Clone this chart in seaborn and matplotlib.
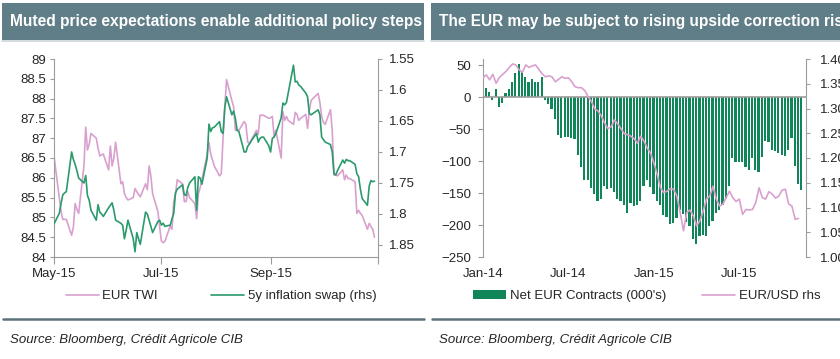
import matplotlib
matplotlib.use("Agg")
import matplotlib.pyplot as plt
import matplotlib.dates as mdates
from matplotlib.patches import Rectangle, Patch
from matplotlib.lines import Line2D
from matplotlib.transforms import Bbox, TransformedBbox
import seaborn as sns
import pandas as pd
import numpy as np

# ---- left panel data (daily, May-Oct 2015) ----
eur_twi = [
    86.55, 85.5, 85.15, 84.95, 84.95, 84.95, 84.55, 84.75, 85.35, 85.2, 85.1, 86.3, 87.28, 86.7, 86.85,
    87.12, 87.0, 86.75, 86.55, 86.58, 86.6, 86.2, 86.8, 86.3, 86.5, 86.9, 85.85, 85.9, 85.6, 85.5,
    85.44, 85.5, 85.73, 85.65, 85.58, 85.52, 85.85, 85.7, 86.3, 86.05, 85.6, 85.15, 84.75, 84.4,
    84.36, 84.4, 84.78, 84.7, 85.4, 85.6, 85.95, 85.85, 85.4, 85.4, 85.65, 85.5, 85.35, 84.97, 85.6,
    85.75, 85.95, 86.6, 86.9, 86.6, 86.45, 86.3, 86.05, 86.1, 87.0, 87.8, 88.48, 87.95, 87.8, 87.2,
    87.2, 87.2, 87.42, 87.35, 86.9, 86.87, 86.95, 87.2, 87.1, 87.58, 87.58, 87.58, 87.5, 87.52,
    87.55, 87.04, 87.2, 86.5, 87.67, 87.45, 87.55, 87.45, 87.35, 87.65, 87.6, 87.45, 87.5, 87.6, 87.25,
    87.7, 87.95, 88.0, 88.13, 87.9, 87.55, 87.4, 87.35, 87.72, 87.2, 86.07, 86.07, 86.05, 86.2, 85.95,
    86.07, 85.98, 85.98, 85.9, 85.1, 85.18, 85.1, 85.05, 84.7, 84.85, 84.77, 84.7, 84.5,
]
swap_5y = [
    1.816, 1.799, 1.783, 1.769, 1.766, 1.764, 1.70, 1.712, 1.72, 1.73, 1.742, 1.75, 1.738, 1.77, 1.778,
    1.794, 1.81, 1.785, 1.797, 1.80, 1.804, 1.79, 1.786, 1.782, 1.794, 1.81, 1.815, 1.818, 1.84, 1.826,
    1.81, 1.84, 1.861, 1.83, 1.84, 1.849, 1.797, 1.80, 1.81, 1.82, 1.83, 1.812, 1.81, 1.818,
    1.815, 1.82, 1.818, 1.808, 1.799, 1.766, 1.76, 1.753, 1.769, 1.77, 1.757, 1.75, 1.74, 1.794, 1.74,
    1.742, 1.752, 1.71, 1.655, 1.667, 1.661, 1.66, 1.651, 1.667, 1.67, 1.628, 1.611, 1.64, 1.634, 1.646,
    1.665, 1.667, 1.70, 1.70, 1.691, 1.687, 1.682, 1.67, 1.684, 1.678, 1.676, 1.676, 1.69, 1.70,
    1.678, 1.676, 1.67, 1.645, 1.621, 1.624, 1.62, 1.605, 1.56, 1.587, 1.586, 1.592, 1.594, 1.605, 1.611,
    1.638, 1.64, 1.638, 1.632, 1.64, 1.676, 1.68, 1.684, 1.688, 1.70, 1.735, 1.737, 1.73, 1.713, 1.718,
    1.712, 1.714, 1.714, 1.72, 1.735, 1.74, 1.76, 1.775, 1.786, 1.755, 1.746, 1.748, 1.747,
]
left_ticks = ["2015-05-01", "2015-07-01", "2015-09-01", "2015-11-01"]
left_tick_labels = ["May-15", "Jul-15", "Sep-15", ""]

# ---- right panel data (weekly, 2014-2015) ----
net_eur_contracts = [
    14.6, 8, -5, 13, -16, -9, 7, 13, 23, 37, 52, 39, 32, 23, 28, 24, 24, 32, -4, -11,
    -19, -35, -60, -64, -62, -63, -64, -65, -91, -110, -130, -129,
    -142, -152, -162, -160, -139, -144, -142, -149, -159, -162, -168, -182, -166, -170, -168, -162,
    -139, -129, -140, -151, -162, -169, -185, -188, -198, -197, -189, -176, -183, -196, -202, -222,
    -229, -217, -215, -217, -201, -193, -181, -176, -168, -160, -139, -95, -102, -102, -102, -110,
    -114, -96, -114, -117, -94, -69, -70, -83, -85, -88, -90, -92, -83, -64, -108, -136, -145,
]
eur_usd = [
    1.362, 1.368, 1.358, 1.369, 1.351, 1.363, 1.369, 1.375, 1.383, 1.390,
    1.388, 1.378, 1.373, 1.388, 1.383, 1.386, 1.388, 1.379, 1.370, 1.364,
    1.366, 1.364, 1.354, 1.359, 1.364, 1.361, 1.362, 1.354, 1.344, 1.342,
    1.342, 1.336, 1.324, 1.314, 1.299, 1.295, 1.285, 1.271, 1.259, 1.263,
    1.277, 1.269, 1.259, 1.249, 1.247, 1.244, 1.239, 1.230, 1.244, 1.234,
    1.220, 1.210, 1.190, 1.167, 1.140, 1.130, 1.133, 1.138, 1.137, 1.123,
    1.090, 1.053, 1.090, 1.095, 1.083, 1.063, 1.073, 1.093, 1.117, 1.123,
    1.143, 1.117, 1.103, 1.107, 1.120, 1.133, 1.120, 1.112, 1.117, 1.086,
    1.096, 1.095, 1.096, 1.110, 1.140, 1.120, 1.117, 1.132, 1.127, 1.119,
    1.123, 1.135, 1.137, 1.107, 1.103, 1.076, 1.078,
]
right_ticks = ["2014-01-01", "2014-07-01", "2015-01-01", "2015-07-01"]
right_tick_labels = ["Jan-14", "Jul-14", "Jan-15", "Jul-15"]

titles = ["Muted price expectations enable additional policy steps",
          "The EUR may be subject to rising upside correction risks"]
source = "Source: Bloomberg, Crédit Agricole CIB"

twi_dates = mdates.date2num(pd.bdate_range("2015-05-01", periods=len(eur_twi)))
swap_dates = mdates.date2num(pd.bdate_range("2015-05-01", periods=len(swap_5y)))
cot_dates = mdates.date2num(pd.date_range("2014-01-07", periods=len(net_eur_contracts), freq="7D"))
fx_dates = mdates.date2num(pd.date_range("2014-01-01", periods=len(eur_usd), freq="7D"))

PINK = "#d9a0cf"
GREEN = "#2b9a6c"
BAR_GREEN = "#108558"
HEADER = "#607e88"
GREY = "#9c9c9c"
FS = 9.5

sns.set_style("ticks")
plt.rcParams["font.family"] = ["Liberation Sans", "DejaVu Sans"]

W, H = 840, 359
fig = plt.figure(figsize=(8.4, 3.59), dpi=100)
renderer = fig.canvas.get_renderer()


def fx(px):
    return px / W


def fy(py):
    return 1 - py / H


def frame(x0, x1, title, size):
    # slate header bar with clipped white title, rule under it, dark rule + source at the bottom
    fig.add_artist(Rectangle((fx(x0), fy(39.5)), fx(x1 - x0), 36.5 / H,
                             transform=fig.transFigure, color=HEADER, lw=0))
    t = fig.text(fx(x0 + 8), fy(21.5), title, color="white", fontsize=size, fontweight="bold",
                 fontstretch="condensed", va="center")
    t.set_clip_box(TransformedBbox(Bbox([[fx(x0), fy(40)], [fx(x1), fy(3)]]), fig.transFigure))
    t.set_clip_on(True)
    fig.add_artist(Line2D([fx(x0), fx(x1)], [fy(41), fy(41)], transform=fig.transFigure,
                          color="#c9d5d9", lw=1.2))
    fig.add_artist(Line2D([fx(x0 + 1), fx(x1)], [fy(319), fy(319)], transform=fig.transFigure,
                          color="#5c727b", lw=1.8))
    fig.text(fx(x0 + 8), fy(343), source, fontsize=FS, style="italic", va="baseline")
    return t


def style_axes(ax, axb):
    for a in (ax, axb):
        a.set_xlabel("")
        a.set_ylabel("")
        a.spines["top"].set_visible(False)
    ax.spines["right"].set_visible(False)
    axb.spines["left"].set_visible(False)
    axb.spines["bottom"].set_visible(False)
    for s in ["left", "bottom"]:
        ax.spines[s].set_color(GREY)
    axb.spines["right"].set_color(GREY)


def left_panel():
    ax = fig.add_axes([fx(54), fy(257), fx(378 - 54), 198 / H])
    sns.lineplot(x=twi_dates, y=eur_twi, ax=ax, color=PINK, lw=1.2)
    axb = ax.twinx()
    sns.lineplot(x=swap_dates, y=swap_5y, ax=axb, color=GREEN, lw=1.2)

    ax.set_xlim(mdates.datestr2num("2015-05-01"), mdates.datestr2num("2015-11-01"))
    ax.set_ylim(84, 89)
    axb.set_ylim(1.8694, 1.55)

    ax.set_xticks(mdates.datestr2num(left_ticks))
    ax.set_xticklabels(left_tick_labels)
    yt = np.round(np.arange(84, 89.01, 0.5), 2)
    ax.set_yticks(yt)
    ax.set_yticklabels([f"{v:g}" for v in yt])
    yb = np.round(np.arange(1.55, 1.851, 0.05), 2)
    axb.set_yticks(yb)
    axb.set_yticklabels([f"{v:g}" for v in yb])

    style_axes(ax, axb)
    ax.tick_params(axis="x", length=5, color=GREY, labelsize=FS, pad=3)
    ax.tick_params(axis="y", length=3, color=GREY, labelsize=FS, pad=3)
    axb.tick_params(axis="y", length=3, color=GREY, labelsize=FS, pad=5)

    handles = [Line2D([], [], color=PINK, lw=1.2), Line2D([], [], color=GREEN, lw=1.2)]
    fig.legend(handles, ["EUR TWI", "5y inflation swap (rhs)"], loc="center",
               bbox_to_anchor=(fx(221), fy(296)), ncol=2, frameon=False, fontsize=FS,
               handlelength=2.5, handletextpad=0.3, columnspacing=4.0)


def right_panel():
    ax = fig.add_axes([fx(483), fy(257), fx(806 - 483), 198 / H])
    sns.barplot(x=cot_dates, y=net_eur_contracts, native_scale=True, width=0.66,
                color=BAR_GREEN, saturation=1, errorbar=None, linewidth=0, ax=ax)
    ax.axhline(0, color=GREY, lw=1.2, zorder=3)
    axb = ax.twinx()
    sns.lineplot(x=fx_dates, y=eur_usd, ax=axb, color=PINK, lw=1.2)

    ax.set_xlim(mdates.datestr2num("2014-01-01"), mdates.datestr2num("2015-11-20"))
    ax.set_ylim(-250, 59.4)
    axb.set_ylim(1.0, 1.40)

    ax.set_xticks(mdates.datestr2num(right_ticks))
    ax.set_xticklabels(right_tick_labels)
    ax.set_yticks(np.arange(-250, 51, 50))
    yb = np.round(np.arange(1.0, 1.401, 0.05), 2)
    axb.set_yticks(yb)
    axb.set_yticklabels([f"{v:.2f}" for v in yb])

    style_axes(ax, axb)
    ax.spines["bottom"].set_visible(False)
    ax.tick_params(axis="x", length=0, labelsize=FS, pad=8)
    ax.tick_params(axis="y", length=3.5, color=GREY, labelsize=FS, pad=5)
    axb.tick_params(axis="y", length=3, color=GREY, labelsize=FS, pad=7)

    handles = [Patch(facecolor=BAR_GREEN, lw=0), Line2D([], [], color=PINK, lw=1.2)]
    fig.legend(handles, ["Net EUR Contracts (000's)", "EUR/USD rhs"], loc="center",
               bbox_to_anchor=(fx(647), fy(296)), ncol=2, frameon=False, fontsize=FS,
               handlelength=2.5, handleheight=0.65, handletextpad=0.3, columnspacing=2.7)


# fit the header titles: the left one spans ~413 px in the reference
t_left = frame(2, 424, titles[0], 14)
width = t_left.get_window_extent(renderer=renderer).width
size = 14 * 413 / width
t_left.set_fontsize(size)
frame(431, 840, titles[1], size)
left_panel()
right_panel()

fig.savefig("out.png", dpi=100)
